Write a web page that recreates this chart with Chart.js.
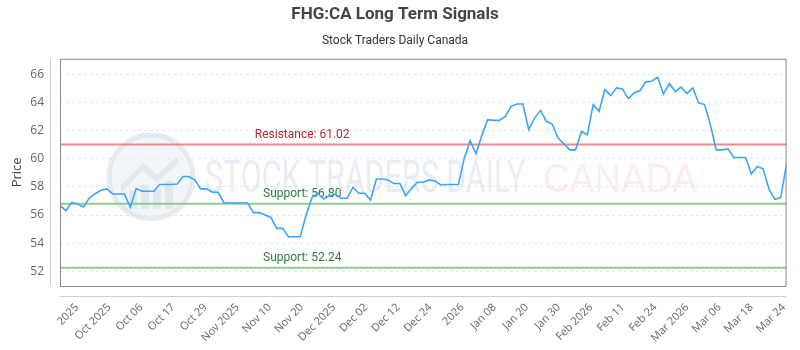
<!DOCTYPE html>
<html><head><meta charset="utf-8">
<script src="https://cdn.jsdelivr.net/npm/chart.js@4.4.0/dist/chart.umd.min.js"></script>
<style>html,body{margin:0;padding:0;background:#fff}</style>
</head><body>
<canvas id="c" width="800" height="350"></canvas>
<script>
// ---- data ----
const prices = [
56.69,56.31,56.90,56.79,56.57,57.21,57.52,57.76,57.86,57.50,
57.50,57.50,56.55,57.88,57.69,57.69,57.69,58.17,58.17,58.17,
58.21,58.74,58.74,58.50,57.86,57.86,57.62,57.62,56.86,56.86,
56.86,56.86,56.86,56.17,56.17,56.00,55.83,55.05,55.05,54.45,
54.45,54.45,56.00,57.24,57.55,57.14,57.38,57.48,57.19,57.19,
57.98,57.55,57.55,57.07,58.57,58.57,58.50,58.24,58.24,57.38,
57.90,58.33,58.33,58.50,58.43,58.14,58.17,58.17,58.17,60.05,
61.29,60.36,61.67,62.79,62.74,62.74,63.02,63.74,63.90,63.90,
62.07,62.90,63.45,62.67,62.48,61.48,61.07,60.64,60.64,61.95,
61.71,63.86,63.38,64.93,64.50,65.05,64.98,64.29,64.69,64.86,
65.48,65.52,65.81,64.62,65.36,64.79,65.10,64.64,65.05,63.98,
63.86,62.43,60.64,60.64,60.71,60.10,60.10,60.10,58.93,59.45,
59.29,57.86,57.12,57.24,59.64
];
const tickLabels = ["2025","Oct 2025","Oct 06","Oct 17","Oct 29","Nov 2025","Nov 10","Nov 20",
"Dec 2025","Dec 02","Dec 12","Dec 24","2026","Jan 08","Jan 20","Jan 30","Feb 2026","Feb 11",
"Feb 24","Mar 2026","Mar 06","Mar 18","Mar 24"];
const yTickValues = [52,54,56,58,60,62,64,66];
const resistanceLevels = [61.02];
const supportLevels = [56.80, 52.24];
const yRange = [50.95, 67.12];
const firstTickIndex = 2.9, lastTickIndex = 123.5;

const FONT = "Roboto";
const TICKFONT = "'Open Sans'";

const overlay = {
  id: 'overlay',
  beforeDatasetsDraw(chart) {
    const {ctx, chartArea: a, scales: {y}} = chart;
    ctx.save();
    // watermark logo
    const cx = a.left + 91, cy = a.top + 118, r = 42;
    ctx.beginPath(); ctx.arc(cx, cy, r, 0, Math.PI * 2);
    ctx.fillStyle = 'rgba(232,237,244,0.5)'; ctx.fill();
    ctx.lineWidth = 5; ctx.strokeStyle = 'rgba(214,223,234,0.55)'; ctx.stroke();
    ctx.fillStyle = 'rgba(214,223,234,0.6)';
    ctx.beginPath();
    ctx.moveTo(cx - 30, cy + 8); ctx.lineTo(cx - 8, cy - 14); ctx.lineTo(cx + 6, cy - 2);
    ctx.lineTo(cx + 26, cy - 20); ctx.lineTo(cx + 28, cy - 14); ctx.lineTo(cx + 6, cy + 6);
    ctx.lineTo(cx - 8, cy - 6); ctx.lineTo(cx - 30, cy + 16); ctx.closePath(); ctx.fill();
    [[-22, 14, 8, 18], [-10, 8, 8, 24], [2, 12, 8, 20], [14, 4, 8, 28]].forEach(b => {
      ctx.fillRect(cx + b[0], cy + b[1], b[2], b[3]);
    });
    // watermark texts
    ctx.textBaseline = 'alphabetic'; ctx.textAlign = 'left';
    ctx.font = "400 44px " + FONT;
    let t = "STOCK TRADERS DAILY";
    let w = ctx.measureText(t).width;
    ctx.save(); ctx.translate(a.left + 145, a.top + 133); ctx.scale(320 / w, 1);
    ctx.fillStyle = 'rgba(224,230,239,0.7)'; ctx.fillText(t, 0, 0); ctx.restore();
    ctx.font = "400 40px 'Liberation Sans'";
    t = "CANADA"; w = ctx.measureText(t).width;
    ctx.save(); ctx.translate(a.left + 483, a.top + 133); ctx.scale(154 / w, 1);
    ctx.fillStyle = 'rgba(252,215,215,0.45)'; ctx.fillText(t, 0, 0); ctx.restore();

    // reference lines
    const labelX = a.left + a.width / 3;
    const drawLevel = (v, lineColor, textColor, name) => {
      const py = y.getPixelForValue(v);
      ctx.beginPath(); ctx.moveTo(a.left, py); ctx.lineTo(a.right, py);
      ctx.lineWidth = 2; ctx.strokeStyle = lineColor; ctx.stroke();
      ctx.font = "12px " + FONT; ctx.fillStyle = textColor;
      ctx.textAlign = 'center'; ctx.textBaseline = 'middle';
      ctx.fillText(name + ": " + v.toFixed(2), labelX, py - 10);
    };
    resistanceLevels.forEach(v => drawLevel(v, 'rgba(226,110,118,0.8)', '#b02a30', 'Resistance'));
    supportLevels.forEach(v => drawLevel(v, 'rgba(130,195,130,0.85)', '#2e7d32', 'Support'));
    ctx.restore();
  },
  afterDraw(chart) {
    const {ctx, chartArea: a} = chart;
    ctx.save();
    ctx.lineWidth = 1;
    ctx.strokeStyle = '#8a8a8a';
    ctx.strokeRect(a.left + 0.5, a.top + 0.5, a.width - 1, a.height);
    ctx.strokeStyle = '#cfcfcf';
    ctx.beginPath();
    ctx.moveTo(a.left - 9.5, a.top); ctx.lineTo(a.left - 9.5, a.bottom);
    ctx.moveTo(a.left, a.bottom + 10.5); ctx.lineTo(a.right, a.bottom + 10.5);
    ctx.stroke();
    ctx.restore();
  }
};

new Chart(document.getElementById('c'), {
  type: 'line',
  data: {
    datasets: [{
      data: prices.map((p, i) => ({x: i, y: p})),
      borderColor: '#3aa6f5',
      borderWidth: 1.6,
      pointRadius: 0,
      tension: 0,
      fill: false
    }]
  },
  options: {
    responsive: false,
    animation: false,
    layout: {padding: {left: 0, right: 10, top: 0, bottom: 0}},
    plugins: {
      legend: {display: false},
      tooltip: {enabled: false},
      title: {display: true, text: 'FHG:CA Long Term Signals', color: '#444',
        font: {family: FONT, size: 17, weight: 'bold'}, padding: {top: 5, bottom: 8}},
      subtitle: {display: true, text: 'Stock Traders Daily Canada', color: '#333',
        font: {family: FONT, size: 12}, padding: {top: 0, bottom: 11}}
    },
    scales: {
      x: {
        type: 'linear', min: 0, max: prices.length - 1,
        afterBuildTicks: s => {
          const n = tickLabels.length;
          s.ticks = tickLabels.map((l, j) => ({value: firstTickIndex + j * (lastTickIndex - firstTickIndex) / (n - 1)}));
        },
        afterFit: s => { s.height = 64; },
        grid: {display: false},
        border: {display: false},
        ticks: {autoSkip: false, maxRotation: 45, minRotation: 45, padding: 7,
          color: '#666', font: {family: TICKFONT, size: 11},
          callback: (v, i) => tickLabels[i]}
      },
      y: {
        min: yRange[0], max: yRange[1],
        afterBuildTicks: s => { s.ticks = yTickValues.map(v => ({value: v})); },
        afterFit: s => { s.width = 60; },
        grid: {color: '#e6e6e6', borderDash: [3, 3], drawTicks: false},
        border: {display: false, dash: [3,3]},
        ticks: {padding: 16, color: '#666', font: {family: TICKFONT, size: 12}},
        title: {display: true, text: 'Price', color: '#444', font: {family: TICKFONT, size: 13}, padding: {top: 9, bottom: 0}}
      }
    }
  },
  plugins: [overlay]
});
</script>
</body></html>
